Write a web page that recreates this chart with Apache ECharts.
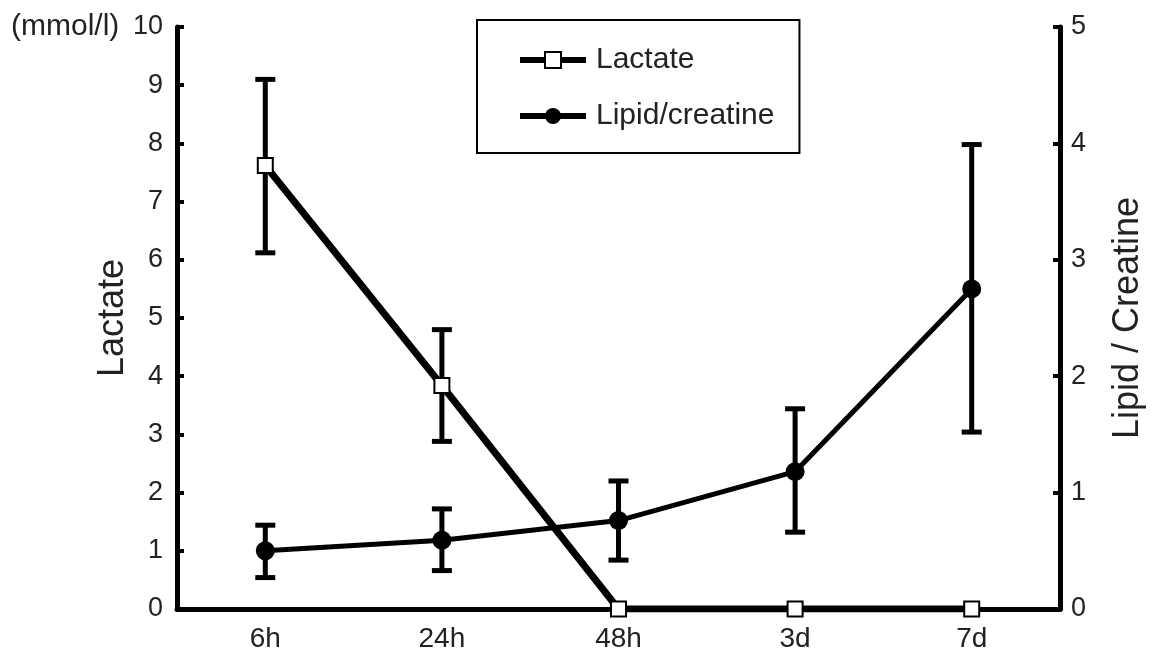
<!DOCTYPE html>
<html>
<head>
<meta charset="utf-8">
<script src="https://cdn.jsdelivr.net/npm/echarts@6/dist/echarts.min.js"></script>
<style>
  html, body { margin: 0; padding: 0; background: #fff; }
  #main { width: 1157px; height: 660px; }
</style>
</head>
<body>
<div id="main"></div>
<script>
var categories = ['6h', '24h', '48h', '3d', '7d'];
var lactate = [7.62, 3.84, 0, 0, 0];
var lactateLow = [6.12, 2.88, null, null, null];
var lactateHigh = [9.1, 4.8, null, null, null];
var lipid = [0.50, 0.59, 0.76, 1.18, 2.75];
var lipidLow = [0.27, 0.33, 0.42, 0.66, 1.52];
var lipidHigh = [0.72, 0.86, 1.10, 1.72, 3.99];

function errData(low, high) {
  var out = [];
  for (var i = 0; i < categories.length; i++) {
    if (low[i] != null) out.push([i, low[i], high[i]]);
  }
  return out;
}

function errRender(params, api) {
  var x = api.value(0);
  var lo = api.coord([x, api.value(1)]);
  var hi = api.coord([x, api.value(2)]);
  var half = 10;
  var st = { stroke: '#000', lineWidth: 5 };
  return {
    type: 'group',
    children: [
      { type: 'line', shape: { x1: lo[0], y1: lo[1], x2: hi[0], y2: hi[1] }, style: st },
      { type: 'line', shape: { x1: lo[0] - half, y1: lo[1], x2: lo[0] + half, y2: lo[1] }, style: st },
      { type: 'line', shape: { x1: hi[0] - half, y1: hi[1], x2: hi[0] + half, y2: hi[1] }, style: st }
    ]
  };
}

var font = 'Liberation Sans';
var myChart = echarts.init(document.getElementById('main'));
var option = {
  animation: false,
  textStyle: { fontFamily: font, color: '#222' },
  grid: { left: 177, right: 97, top: 27, bottom: 51 },
  legend: {
    left: 477, top: 20,
    orient: 'vertical',
    padding: [25, 25, 22, 40],
    itemGap: 26,
    itemWidth: 66,
    itemHeight: 20,
    borderColor: '#000',
    borderWidth: 2,
    lineStyle: { width: 6 },
    textStyle: { fontFamily: font, fontSize: 30, color: '#222', padding: [0, 0, 0, 5] },
    data: ['Lactate', 'Lipid/creatine']
  },
  xAxis: {
    type: 'category',
    data: categories,
    boundaryGap: true,
    axisLine: { lineStyle: { color: '#000', width: 5 } },
    axisTick: { inside: true, length: 8, lineStyle: { color: '#000', width: 4 } },
    axisLabel: { fontSize: 28, color: '#222', margin: 16, fontFamily: font }
  },
  yAxis: [
    {
      type: 'value', min: 0, max: 10, interval: 1,
      name: 'Lactate', nameLocation: 'middle', nameGap: 46, nameRotate: 90,
      nameMoveOverlap: false,
      nameTextStyle: { fontSize: 36, color: '#222', fontFamily: font },
      splitLine: { show: false },
      axisLine: { show: true, lineStyle: { color: '#000', width: 5 } },
      axisTick: { show: true, inside: true, length: 7, lineStyle: { color: '#000', width: 4 } },
      axisLabel: { fontSize: 27, color: '#222', margin: 14, fontFamily: font }
    },
    {
      type: 'value', min: 0, max: 5, interval: 1,
      position: 'right',
      name: 'Lipid / Creatine', nameLocation: 'middle', nameGap: 50, nameRotate: 90,
      nameTextStyle: { fontSize: 36, color: '#222', fontFamily: font },
      splitLine: { show: false },
      axisLine: { show: true, lineStyle: { color: '#000', width: 5 } },
      axisTick: { show: true, inside: true, length: 7, lineStyle: { color: '#000', width: 4 } },
      axisLabel: { fontSize: 27, color: '#222', margin: 11, fontFamily: font }
    }
  ],
  graphic: [
    { type: 'text', left: 11, top: 12, style: { text: '(mmol/l)', font: '30px "Liberation Sans"', fill: '#222' } }
  ],
  series: [
    {
      type: 'custom', name: 'lacErr', yAxisIndex: 0, z: 1,
      renderItem: errRender, data: errData(lactateLow, lactateHigh)
    },
    {
      type: 'custom', name: 'lipErr', yAxisIndex: 1, z: 1,
      renderItem: errRender, data: errData(lipidLow, lipidHigh)
    },
    {
      name: 'Lactate', type: 'line', yAxisIndex: 0, z: 3,
      data: lactate,
      symbol: 'rect', symbolSize: 15,
      lineStyle: { color: '#000', width: 7 },
      itemStyle: { color: '#fff', borderColor: '#000', borderWidth: 2 }
    },
    {
      name: 'Lipid/creatine', type: 'line', yAxisIndex: 1, z: 4,
      data: lipid,
      symbol: 'circle', symbolSize: 19,
      lineStyle: { color: '#000', width: 5 },
      itemStyle: { color: '#000', borderColor: '#000', borderWidth: 0 }
    }
  ]
};
myChart.setOption(option);
</script>
</body>
</html>
